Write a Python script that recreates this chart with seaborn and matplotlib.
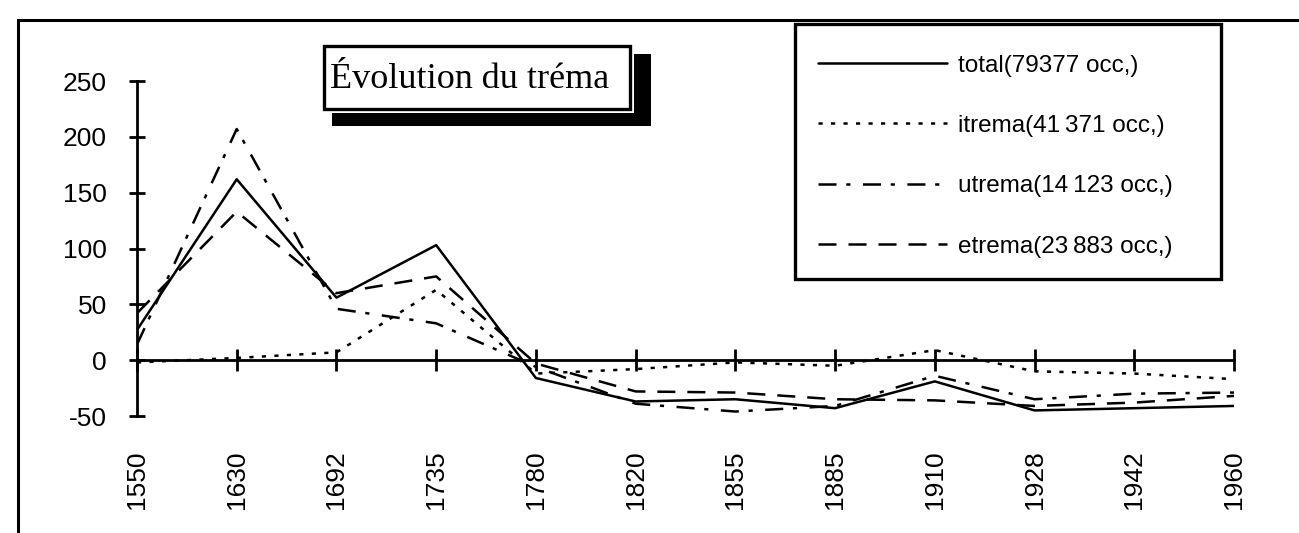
import matplotlib
matplotlib.use("Agg")
import matplotlib.pyplot as plt
from matplotlib.patches import Rectangle
import seaborn as sns
import pandas as pd

# ---- data ----
years = ["1550", "1630", "1692", "1735", "1780", "1820", "1855", "1885", "1910", "1928", "1942", "1960"]
total = [27, 162, 56, 103, -16, -37, -35, -43, -19, -45, -43, -41]
itrema = [-2, 2, 7, 63, -12, -8, -2, -5, 9, -10, -12, -17]
utrema = [14, 207, 46, 33, -6, -39, -46, -41, -14, -35, -30, -29]
etrema = [42, 133, 60, 75, -3, -28, -29, -35, -36, -41, -38, -32]
labels = ["total(79377 occ,)", "itrema(41\u2009371 occ,)", "utrema(14\u2009123 occ,)", "etrema(23\u2009883 occ,)"]
yticks = [-50, 0, 50, 100, 150, 200, 250]
title = "Évolution du tréma"

sns.set_style("white")
plt.rcParams["font.family"] = ["Liberation Sans", "DejaVu Sans"]
plt.rcParams["lines.scale_dashes"] = False

W, H = 1299, 533
fig = plt.figure(figsize=(W / 100, H / 100), dpi=100)
ax = fig.add_axes([137 / W, 1 - 416 / H, (1234 - 137) / W, (416 - 81) / H])
ax.set_facecolor("white")

styles = ["-", (0, (3, 6)), (0, (13, 7, 3, 9)), (0, (13, 8.6))]
for vals, lab, ls in zip([total, itrema, utrema, etrema], labels, styles):
    df = pd.DataFrame({"year": years, "value": vals})
    sns.lineplot(data=df, x="year", y="value", ax=ax, color="black",
                 linewidth=1.8, linestyle=ls, label=lab)

ax.set_xlim(0, len(years) - 1)
ax.set_ylim(-50, 250)
ax.set_yticks(yticks)
ax.set_yticklabels([str(v) for v in yticks])
ax.set_xticks(range(len(years)))
ax.set_xticklabels(years)
ax.set_xlabel("")
ax.set_ylabel("")

for s in ["top", "right"]:
    ax.spines[s].set_visible(False)
ax.spines["bottom"].set_position(("data", 0))
for s in ["bottom", "left"]:
    ax.spines[s].set_linewidth(2)
    ax.spines[s].set_color("black")

ax.tick_params(axis="y", direction="inout", length=11.5, width=2, pad=16,
               labelsize=19, colors="black", left=True)
ax.tick_params(axis="x", direction="inout", length=16, width=2, pad=57,
               labelsize=19, colors="black", bottom=True, labelrotation=90)

# legend
leg = ax.legend(loc="upper left", bbox_to_anchor=(818 / W, 1 - 54.5 / H),
                bbox_transform=fig.transFigure, frameon=False, fontsize=17.5,
                handlelength=5.3, handletextpad=0.45, labelspacing=1.58,
                borderpad=0, borderaxespad=0)
for t in leg.get_texts():
    t.set_color("black")
fig.patches.append(Rectangle((795 / W, 1 - 279 / H), (1221 - 795) / W, (279 - 24) / H,
                             transform=fig.transFigure, fill=False, edgecolor="black",
                             linewidth=2.4, zorder=3))

# title box with shadow
fig.patches.append(Rectangle((332 / W, 1 - 126 / H), (651 - 332) / W, (126 - 54) / H,
                             transform=fig.transFigure, facecolor="black", edgecolor="none", zorder=3))
fig.patches.append(Rectangle((319 / W, 1 - 113 / H), (634 - 319) / W, (113 - 42) / H,
                             transform=fig.transFigure, facecolor="white", edgecolor="none", zorder=3.1))
fig.patches.append(Rectangle((323.5 / W, 1 - 108.5 / H), (629.5 - 323.5) / W, (108.5 - 46.5) / H,
                             transform=fig.transFigure, facecolor="white", edgecolor="black",
                             linewidth=2.4, zorder=3.2))
fig.text(470 / W, 1 - 88 / H, title, ha="center", va="baseline", fontsize=26,
         family=["Liberation Serif", "DejaVu Serif"], color="black", zorder=4)

# outer frame (left and top edges visible)
fig.patches.append(Rectangle((17.5 / W, -0.5), 2, (1 - 20.5 / H) + 0.5,
                             transform=fig.transFigure, fill=False, edgecolor="black",
                             linewidth=2.2, zorder=3))

fig.savefig("out.png", dpi=100, facecolor="white")
